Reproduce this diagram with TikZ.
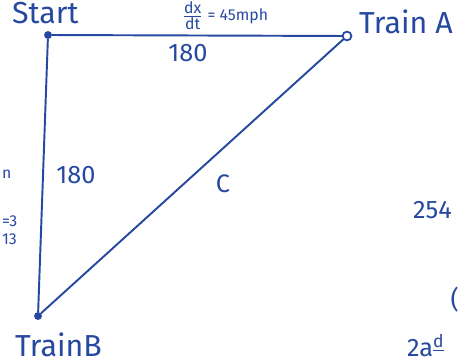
\documentclass[tikz,border=0pt]{standalone}
\usepackage{fontspec}
\setmainfont{Fira Sans}
\usetikzlibrary{positioning}
\definecolor{ink}{RGB}{38,72,160}

\tikzset{
    pen/.style={ink, line width=1.1pt, line cap=round},
    lbl/.style={text=ink, inner sep=1pt, font=\Large},
    ptname/.style={lbl, font=\LARGE},
    vertex/.style={circle, fill=ink, inner sep=0pt, minimum size=4.5pt}
}

\begin{document}
\begin{tikzpicture}
\useasboundingbox (0,0) rectangle (9.22,7.24);

% Draw corners
\node[vertex] (start) at (0.96,6.54) {};
\node[vertex, fill=white, draw=ink, line width=1pt, minimum size=5pt] (trainA) at (6.94,6.52) {};
\node[vertex] (trainB) at (0.76,0.92) {};

% Draw triangle sides
\draw[pen] (start) -- (trainA);
\draw[pen] (start) -- (trainB);
\draw[pen] (trainA) -- (trainB);

% Side lengths
\node[lbl] (top) at (3.76,6.18) {180};
\node[lbl] (left) at (1.52,3.74) {180};
\node[lbl] (hyp) at (4.46,3.56) {C};

% Names of points
\node[ptname, anchor=west] (nameA) at (7.14,6.8) {Train A};
\node[ptname, anchor=south west] (nameB) at (0.26,0.06) {TrainB};
\node[ptname, anchor=north west] (nameS) at (0.2,7.24) {Start};
\node[lbl, font=\small, anchor=north] (rate) at (4.5,7.24)
    {$\frac{\mbox{dx}}{\mbox{dt}}$ = 45mph};

% Notes at the edges
\node[lbl, anchor=west] (n254) at (8.22,3.04) {254};
\node[lbl, anchor=south west] (n2a) at (8.1,0.06) {2a\textsuperscript{\underline{d}}};
\node[lbl, anchor=east] (nparen) at (9.22,1.24) {(};
\node[lbl, font=\small, anchor=west] (nn) at (0.0,3.76) {n};
\node[lbl, font=\small, anchor=west] (n3) at (0.0,2.82) {=3};
\node[lbl, font=\small, anchor=west] (n13) at (0.0,2.46) {13};
\end{tikzpicture}
\end{document}
